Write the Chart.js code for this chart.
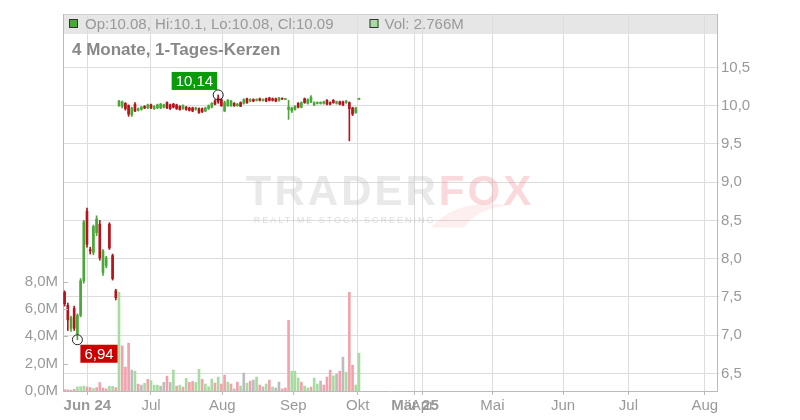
<!DOCTYPE html>
<html>
<head>
<meta charset="utf-8">
<script src="https://cdn.jsdelivr.net/npm/chart.js@4/dist/chart.umd.min.js"></script>
<style>
    html, body { margin: 0; padding: 0; background: #fff; }
</style>
</head>
<body>
<canvas id="chart" width="800" height="420"></canvas>
<script>
// daily candles, one per trading day (index 0 = first candle)
var opens = [7.56, 7.39, 7.09, 7.35, 7.02, 7.26, 7.71, 8.62, 8.12, 8.08, 8.34, 8.45, 7.82, 7.91, 8.45, 8.04, 7.58,
    10.00, 9.99, 10.03, 10.00, 9.88, 10.02, 9.94, 9.95, 9.99, 9.97, 10.01, 9.96, 9.97, 9.97, 9.98, 10.04, 10.01, 10.02, 10.01,
    9.99, 9.96, 9.98, 9.97, 9.97, 9.95, 9.96, 9.96, 9.93, 9.96, 9.98, 10.06, 10.10, 10.08, 9.93, 10.00, 10.00, 10.03, 10.00,
    10.04, 10.03, 10.09, 10.06, 10.08, 10.07, 10.09, 10.07, 10.09, 10.10, 10.09, 10.09, 10.07, 10.09, 10.08, 9.95, 9.93, 9.95,
    10.03, 9.98, 10.09, 10.03, 10.05, 10.01, 10.03, 10.03, 10.03, 10.07, 10.04, 10.07, 10.03, 10.05, 10.05, 10.04, 10.04, 9.97,
    9.91, 10.08];
var highs = [7.58, 7.42, 7.25, 7.38, 7.28, 7.74, 8.50, 8.66, 8.15, 8.44, 8.56, 8.50, 8.12, 8.03, 8.47, 8.06, 7.60,
    10.07, 10.06, 10.04, 10.01, 9.98, 10.04, 9.97, 9.99, 10.00, 10.02, 10.02, 10.00, 10.02, 10.03, 10.02, 10.05, 10.02, 10.03, 10.02,
    10.00, 10.01, 9.99, 9.98, 9.98, 9.98, 9.97, 9.97, 9.98, 10.01, 10.04, 10.08, 10.14, 10.09, 10.06, 10.08, 10.07, 10.04, 10.03,
    10.05, 10.09, 10.10, 10.09, 10.09, 10.09, 10.10, 10.09, 10.10, 10.11, 10.10, 10.10, 10.11, 10.10, 10.09, 10.07, 9.98, 10.00,
    10.04, 10.05, 10.10, 10.09, 10.13, 10.05, 10.05, 10.05, 10.06, 10.08, 10.05, 10.08, 10.06, 10.06, 10.06, 10.07, 10.05, 9.98,
    9.98, 10.10];
var lows = [7.38, 7.06, 7.05, 7.06, 6.94, 7.24, 7.68, 8.15, 8.06, 8.05, 8.30, 7.98, 7.78, 7.88, 8.12, 7.72, 7.46,
    9.99, 9.97, 9.94, 9.86, 9.86, 9.92, 9.93, 9.94, 9.96, 9.96, 9.96, 9.95, 9.96, 9.96, 9.97, 9.96, 9.95, 9.97, 9.95,
    9.94, 9.95, 9.94, 9.93, 9.92, 9.94, 9.90, 9.91, 9.92, 9.95, 9.97, 10.01, 10.03, 9.99, 9.92, 9.99, 9.99, 9.99, 9.99,
    9.99, 10.02, 10.03, 10.05, 10.05, 10.06, 10.06, 10.06, 10.05, 10.06, 10.06, 10.05, 10.06, 10.08, 10.08, 9.82, 9.91, 9.94,
    9.97, 9.97, 10.03, 10.02, 10.04, 10.00, 10.02, 10.02, 10.02, 10.01, 10.01, 10.03, 10.02, 10.01, 10.00, 10.03, 9.54, 9.87,
    9.90, 10.08];
var closes = [7.41, 7.20, 7.23, 7.09, 7.26, 7.71, 8.48, 8.19, 8.10, 8.42, 8.52, 8.01, 8.10, 8.01, 8.14, 7.74, 7.49,
    10.06, 10.05, 9.96, 9.89, 9.97, 9.93, 9.96, 9.98, 9.97, 10.01, 9.97, 9.99, 10.01, 10.02, 10.01, 9.97, 9.96, 9.98, 9.96,
    9.95, 10.00, 9.95, 9.94, 9.93, 9.97, 9.91, 9.92, 9.97, 10.00, 10.03, 10.02, 10.05, 10.00, 10.04, 10.07, 10.06, 10.00, 10.02,
    9.99, 10.08, 10.04, 10.08, 10.06, 10.08, 10.07, 10.08, 10.06, 10.07, 10.07, 10.06, 10.10, 10.085, 10.085, 9.98, 9.97, 9.99,
    9.98, 10.04, 10.04, 10.08, 10.11, 10.04, 10.04, 10.04, 10.05, 10.02, 10.02, 10.04, 10.05, 10.02, 10.01, 10.06, 9.96, 9.89,
    9.97, 10.09];
// volume in millions, u = up (green), d = down (red), n = unchanged (grey)
var volumes = [0.10, 0.08, 0.06, 0.12, 0.30, 0.32, 0.36, 0.30, 0.25, 0.18, 0.25, 0.62, 0.22, 0.15, 0.34, 0.34, 0.25,
    7.22, 3.30, 1.75, 3.50, 1.53, 1.45, 0.50, 0.43, 0.56, 0.85, 0.75, 0.43, 0.43, 0.36, 0.63, 1.09, 0.63, 1.53, 0.36,
    0.43, 0.29, 0.92, 0.63, 0.70, 0.63, 1.58, 0.85, 0.51, 0.31, 0.87, 0.58, 1.02, 0.51, 1.16, 0.65, 0.51, 0.15, 0.65,
    0.36, 1.31, 0.58, 0.73, 0.80, 1.02, 0.44, 0.31, 0.51, 0.80, 0.29, 0.22, 0.65, 0.15, 0.22, 5.16, 1.45, 1.45,
    0.95, 0.65, 0.36, 0.22, 0.29, 0.95, 0.51, 0.73, 0.44, 1.02, 1.53, 1.11, 1.24, 1.45, 2.47, 1.38, 7.22, 1.89,
    0.44, 2.766];
var volumeDir = ('ddnduuuddudddduud' + 'udddnudnuduuunndnudududduud' +
    'uuududdudndunudnudnudunnddduuuduuduundddundnudduu').split('');

var tickPos = [7.6, 27.5, 49.8, 72.0, 92.1, 110.0, 112.3, 134.2, 156.3, 176.7, 200.6];
var tickLabels = ['Jun 24', 'Jul', 'Aug', 'Sep', 'Okt', 'Mär 25', 'Apr', 'Mai', 'Jun', 'Jul', 'Aug'];
var priceTicks = [6.5, 7, 7.5, 8, 8.5, 9, 9.5, 10, 10.5];
var volumeTicks = [0, 2, 4, 6, 8];

var FONT = '"Liberation Sans", Arial, sans-serif';
var UP = '#4aa838', DOWN = '#b5141c';
var VOLCOL = { u: '#a8dba1', d: '#f0a3ab', n: '#bcbcbc' };

function comma(v, d) { return v.toFixed(d).replace('.', ','); }

var wickData = [], bodyData = [], volData = [], candleColors = [], volColors = [];
for (var i = 0; i < opens.length; i++) {
    wickData.push({ x: i + 0.5, y: [lows[i], highs[i]] });
    bodyData.push({ x: i + 0.5, y: [opens[i], closes[i]] });
    volData.push({ x: i + 0.5, y: volumes[i] });
    candleColors.push(closes[i] >= opens[i] ? UP : DOWN);
    volColors.push(VOLCOL[volumeDir[i]]);
}

// the extremes get a circle and a value box
var hiIdx = 0, loIdx = 0;
for (i = 1; i < opens.length; i++) {
    if (highs[i] > highs[hiIdx]) hiIdx = i;
    if (lows[i] < lows[loIdx]) loIdx = i;
}

function valueBox(ctx, text, color, cx, cy, above) {
    ctx.font = '15px ' + FONT;
    var w = ctx.measureText(text).width + 8, h = 18;
    var bx = above ? cx - 1 - w : cx + 3;
    var by = above ? cy - 5 - h : cy + 5;
    ctx.fillStyle = color;
    ctx.fillRect(bx, by, w, h);
    ctx.fillStyle = '#fff';
    ctx.textAlign = 'center';
    ctx.textBaseline = 'middle';
    ctx.fillText(text, bx + w / 2, by + h / 2 + 1);
    ctx.beginPath();
    ctx.arc(cx, cy, 5, 0, Math.PI * 2);
    ctx.strokeStyle = '#222';
    ctx.lineWidth = 1;
    ctx.stroke();
}

var decor = {
    id: 'decor',
    beforeDraw: function (chart) {
        var ctx = chart.ctx, a = chart.chartArea;
        ctx.save();
        ctx.fillStyle = '#fff';
        ctx.fillRect(0, 0, chart.width, chart.height);
        ctx.fillStyle = '#e6e6e6';
        ctx.fillRect(a.left, a.top, a.right - a.left, 20);
        ctx.strokeStyle = '#cfcfcf';
        ctx.beginPath();
        ctx.moveTo(a.left, a.top + 0.5);
        ctx.lineTo(a.right, a.top + 0.5);
        ctx.stroke();
        ctx.restore();
    },
    beforeDatasetsDraw: function (chart) {
        // watermark
        var ctx = chart.ctx, a = chart.chartArea;
        var cx = (a.left + a.right) / 2, cy = (a.top + a.bottom) / 2 - 9;
        ctx.save();
        ctx.font = 'bold 42px ' + FONT;
        ctx.letterSpacing = '3px';
        ctx.textBaseline = 'middle';
        var w1 = ctx.measureText('TRADER').width, w2 = ctx.measureText('FOX').width;
        var x0 = cx - (w1 + w2) / 2;
        // fox tail swoosh under FOX
        var fx = x0 + w1;
        ctx.fillStyle = 'rgba(240,150,160,0.16)';
        ctx.beginPath();
        ctx.moveTo(fx - 8, cy + 34);
        ctx.quadraticCurveTo(fx + 20, cy + 4, fx + 70, cy + 12);
        ctx.quadraticCurveTo(fx + 40, cy + 14, fx + 25, cy + 34);
        ctx.closePath();
        ctx.fill();
        ctx.fillStyle = 'rgba(190,190,190,0.34)';
        ctx.fillText('TRADER', x0, cy);
        ctx.fillStyle = 'rgba(240,140,150,0.33)';
        ctx.fillText('FOX', fx, cy);
        ctx.font = '9px ' + FONT;
        ctx.letterSpacing = '2px';
        ctx.fillStyle = 'rgba(190,190,190,0.5)';
        ctx.fillText('REALTIME STOCK SCREENING', x0 + 8, cy + 27);
        ctx.restore();
    },
    afterDraw: function (chart) {
        var ctx = chart.ctx, a = chart.chartArea;
        var xs = chart.scales.x, ys = chart.scales.y, vs = chart.scales.yv;
        var last = opens.length - 1;
        ctx.save();

        // volume axis tick marks point into the plot
        ctx.strokeStyle = '#bbb';
        ctx.lineWidth = 1;
        volumeTicks.forEach(function (v) {
            var y = Math.round(vs.getPixelForValue(v)) + 0.5;
            ctx.beginPath();
            ctx.moveTo(a.left, y);
            ctx.lineTo(a.left + 5, y);
            ctx.stroke();
        });

        // header legend
        ctx.font = '15px ' + FONT;
        ctx.textAlign = 'left';
        ctx.textBaseline = 'alphabetic';
        ctx.fillStyle = candleColors[last];
        ctx.fillRect(a.left + 6, a.top + 5, 9, 9);
        ctx.strokeStyle = '#333';
        ctx.strokeRect(a.left + 6.5, a.top + 5.5, 8, 8);
        var txt = 'Op:' + opens[last] + ', Hi:' + highs[last] + ', Lo:' + lows[last] + ', Cl:' + closes[last];
        ctx.fillStyle = '#999';
        ctx.fillText(txt, a.left + 22, a.top + 15);
        var vx = a.left + 22 + ctx.measureText(txt).width + 36;
        ctx.fillStyle = volColors[last];
        ctx.fillRect(vx, a.top + 5, 9, 9);
        ctx.strokeRect(vx + 0.5, a.top + 5.5, 8, 8);
        ctx.fillStyle = '#999';
        ctx.fillText('Vol: ' + volumes[last] + 'M', vx + 15, a.top + 15);

        ctx.font = 'bold 17px ' + FONT;
        ctx.fillStyle = '#888';
        ctx.fillText('4 Monate, 1-Tages-Kerzen', a.left + 9, a.top + 41);

        valueBox(ctx, comma(highs[hiIdx], 2), '#0a9a0a',
            xs.getPixelForValue(hiIdx + 0.5), ys.getPixelForValue(highs[hiIdx]), true);
        valueBox(ctx, comma(lows[loIdx], 2), '#cc0000',
            xs.getPixelForValue(loIdx + 0.5), ys.getPixelForValue(lows[loIdx]), false);
        ctx.restore();
    }
};

new Chart(document.getElementById('chart'), {
    type: 'bar',
    data: {
        datasets: [
            {
                label: 'body', data: bodyData, yAxisID: 'y', order: 1,
                backgroundColor: candleColors, barThickness: 2, minBarLength: 1, grouped: false
            },
            {
                label: 'wick', data: wickData, yAxisID: 'y', order: 2,
                backgroundColor: candleColors, barThickness: 1, minBarLength: 1, grouped: false
            },
            {
                label: 'volume', data: volData, yAxisID: 'yv', order: 3,
                backgroundColor: volColors, barThickness: 2, grouped: false
            }
        ]
    },
    options: {
        responsive: false,
        animation: false,
        layout: { padding: { top: 12, left: 0, right: 0, bottom: 0 } },
        plugins: { legend: { display: false }, tooltip: { enabled: false } },
        scales: {
            x: {
                type: 'linear',
                min: 0,
                max: 204.4,
                offset: false,
                afterFit: function (s) { s.height = 29; },
                afterBuildTicks: function (s) {
                    s.ticks = tickPos.map(function (v) { return { value: v }; });
                },
                grid: { color: '#dddddd', offset: false, tickLength: 4, tickColor: '#bbb' },
                border: { color: '#bbb' },
                ticks: {
                    autoSkip: false,
                    maxRotation: 0,
                    padding: 2,
                    color: '#999',
                    font: function (c) {
                        var lab = tickLabels[c.index] || '';
                        return { family: FONT, size: 15, weight: /\d/.test(lab) ? 'bold' : 'normal' };
                    },
                    callback: function (v, idx) { return tickLabels[idx]; }
                }
            },
            y: {
                position: 'right',
                min: 6.27,
                max: 11.198,
                afterFit: function (s) { s.width = 83; },
                afterBuildTicks: function (s) {
                    s.ticks = priceTicks.map(function (v) { return { value: v }; });
                },
                grid: { color: '#dddddd', tickLength: 2 },
                border: { color: '#bbb' },
                ticks: {
                    padding: 2,
                    color: '#999',
                    font: { family: FONT, size: 15 },
                    callback: function (v) { return comma(v, 1); }
                }
            },
            yv: {
                position: 'left',
                min: 0,
                max: 27.56,
                afterFit: function (s) { s.width = 63; },
                afterBuildTicks: function (s) {
                    s.ticks = volumeTicks.map(function (v) { return { value: v }; });
                },
                grid: { display: false, drawTicks: false, tickLength: 0 },
                border: { display: true, color: '#bbb' },
                ticks: {
                    padding: 5,
                    color: '#999',
                    font: { family: FONT, size: 15 },
                    callback: function (v) { return comma(v, 1) + 'M'; }
                }
            }
        }
    },
    plugins: [decor]
});
</script>
</body>
</html>
